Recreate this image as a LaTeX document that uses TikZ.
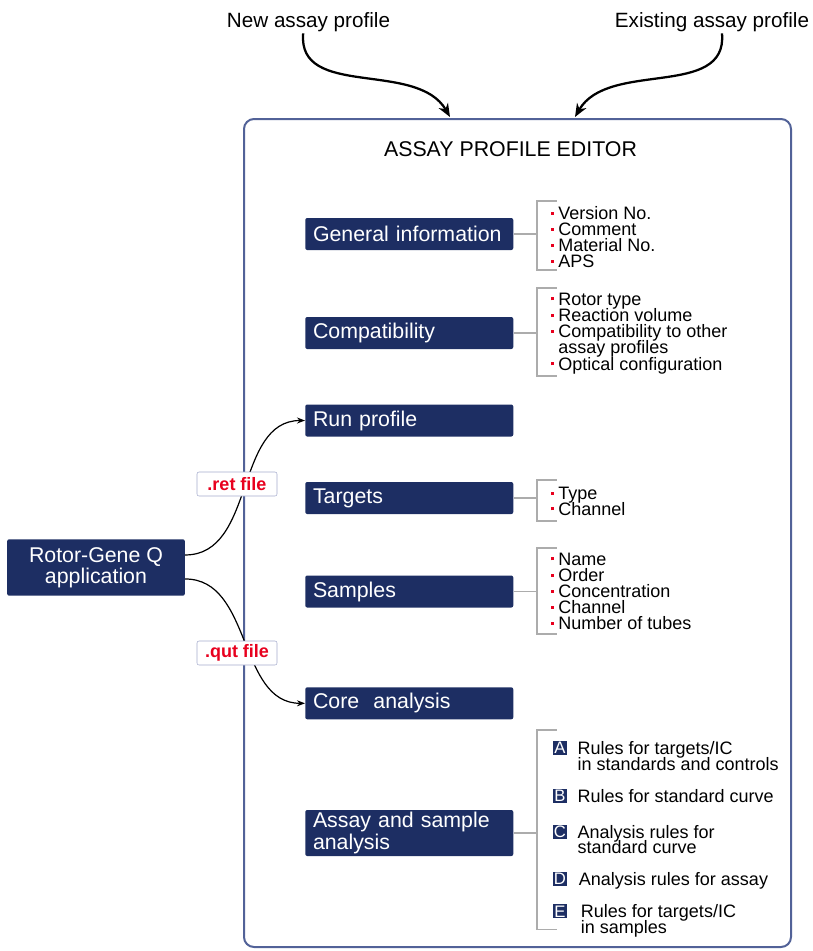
\documentclass[tikz,border=0pt]{standalone}
\usepackage{fontspec}
\setmainfont{Liberation Sans}
\usetikzlibrary{arrows.meta}

\definecolor{navy}{RGB}{29,46,99}
\definecolor{framblue}{RGB}{82,98,152}
\definecolor{brkgray}{RGB}{172,172,172}
\definecolor{dotred}{RGB}{232,0,30}
\definecolor{tagline}{RGB}{165,172,205}

\newcommand{\bul}{\llap{\textcolor{dotred}{\rule[3.4pt]{2.3pt}{2.3pt}}\hspace{3.5pt}}}

\begin{document}
\begin{tikzpicture}[x=0.75pt, y=-0.75pt,
  box/.style={fill=navy, text=white, rounded corners=1.5pt, anchor=west, inner xsep=5.8pt, inner ysep=0pt,
    text width=144.4pt, align=left, minimum height=24pt, font=\fontsize{16}{14.3}\selectfont},
  item/.style={anchor=base west, inner sep=0pt, font=\fontsize{13.5}{15}\selectfont},
  letter/.style={fill=navy, text=white, minimum size=10.5pt, inner sep=0pt, anchor=south west, font=\fontsize{12.5}{12}\selectfont},
  tag/.style={draw=tagline, fill=white, rounded corners=1.5pt, minimum width=60pt, minimum height=18pt, inner sep=0pt,
    text=dotred, font=\fontsize{13.5}{14}\selectfont\bfseries},
  brk/.style={brkgray, line width=1.2pt},
  flow/.style={line width=0.9pt, -{Stealth[length=6pt, width=4.5pt]}},
  bigarrow/.style={line width=1.7pt, -{Stealth[length=10pt, width=8pt]}}]
\useasboundingbox (0,0) rectangle (813,951);

% inputs on top
\node[anchor=base, inner sep=1pt, font=\fontsize{15.5}{16}\selectfont] (new) at (308.5,27.5) {New assay profile};
\node[anchor=base, inner sep=1pt, font=\fontsize{15.5}{16}\selectfont] (exist) at (712,27.5) {Existing assay profile};

\node[draw=framblue, line width=1.5pt, rounded corners=7.5pt, minimum width=410.25pt, minimum height=621pt,
  anchor=north west] (editor) at (243,118) {};
\node[anchor=base, inner sep=0pt, font=\fontsize{16}{16}\selectfont] (title) at (510.5,156) {ASSAY PROFILE EDITOR};

\coordinate (inL) at (450,117);
\coordinate (inR) at (575,117);
\draw[bigarrow] ([xshift=-4pt]new.south) to[out=-95, in=120] (inL);
\draw[bigarrow] ([xshift=7.5pt]exist.south) to[out=-85, in=60] (inR);

% sections
\node[box] (gen)  at (305,234)   {General information};
\node[box] (comp) at (305,333)   {Compatibility};
\node[box] (run)  at (305,420.5) {Run profile};
\node[box] (targ) at (305,498)   {Targets};
\node[box] (samp) at (305,591.5) {Samples};
\node[box] (core) at (305,703.3) {Core\ \ analysis};
\node[box, minimum height=34.5pt] (anal) at (305,833) {Assay and sample\\analysis};

\foreach \b/\t/\e in {gen/200.7/270, comp/287.7/376, targ/480/520.7, samp/547.7/634, anal/730/929.3} {
  \draw[brk] (\b.east) -- ++(24,0);
  \draw[brk] (556.7,\t) -| (536.7,\e) -- (556.7,\e);
}

\foreach \t [count=\i from 0] in {{\bul Version No.},{\bul Comment},{\bul Material No.},{\bul APS}}
  \node[item] (gen\i) at (558,219.3+16*\i) {\t};
\foreach \t [count=\i from 0] in {{\bul Rotor type},{\bul Reaction volume},{\bul Compatibility to other},{assay profiles},{\bul Optical configuration}}
  \node[item] (comp\i) at (558,305+16.25*\i) {\t};
\foreach \t [count=\i from 0] in {{\bul Type},{\bul Channel}}
  \node[item] (targ\i) at (558,499.5+15.5*\i) {\t};
\foreach \t [count=\i from 0] in {{\bul Name},{\bul Order},{\bul Concentration},{\bul Channel},{\bul Number of tubes}}
  \node[item] (samp\i) at (558,565+16.1*\i) {\t};

\foreach \l/\y in {A/754.3, B/802.3, C/838.3, D/885, E/917.7}
  \node[letter] (let\l) at (552.7,\y+1) {\l};
\node[item] (ra1) at (577.3,754.3) {Rules for targets/IC};
\node[item] (ra2) at (577.3,770)   {in standards and controls};
\node[item] (rb)  at (577.3,802.3) {Rules for standard curve};
\node[item] (rc1) at (577.3,838.3) {Analysis rules for};
\node[item] (rc2) at (577.3,853.5) {standard curve};
\node[item] (rd)  at (578.7,885)   {Analysis rules for assay};
\node[item] (re1) at (580.7,917.7) {Rules for targets/IC};
\node[item] (re2) at (580.7,933.3) {in samples};

% application and files
\node[fill=navy, text=white, rounded corners=1.5pt, minimum width=133.3pt, minimum height=42.3pt, inner sep=0pt,
  align=center, font=\fontsize{16}{13}\selectfont] (rgq) at (96,567.5) {Rotor-Gene Q\\application};
\draw[flow] ([yshift=9.4pt]rgq.east) to[out=0, in=180] (run.west);
\draw[flow] ([yshift=-8.6pt]rgq.east) to[out=0, in=180] (core.west);
\node[tag] (ret) at (237,484) {.ret file};
\node[tag] (qut) at (237,653) {.qut file};
\end{tikzpicture}
\end{document}
